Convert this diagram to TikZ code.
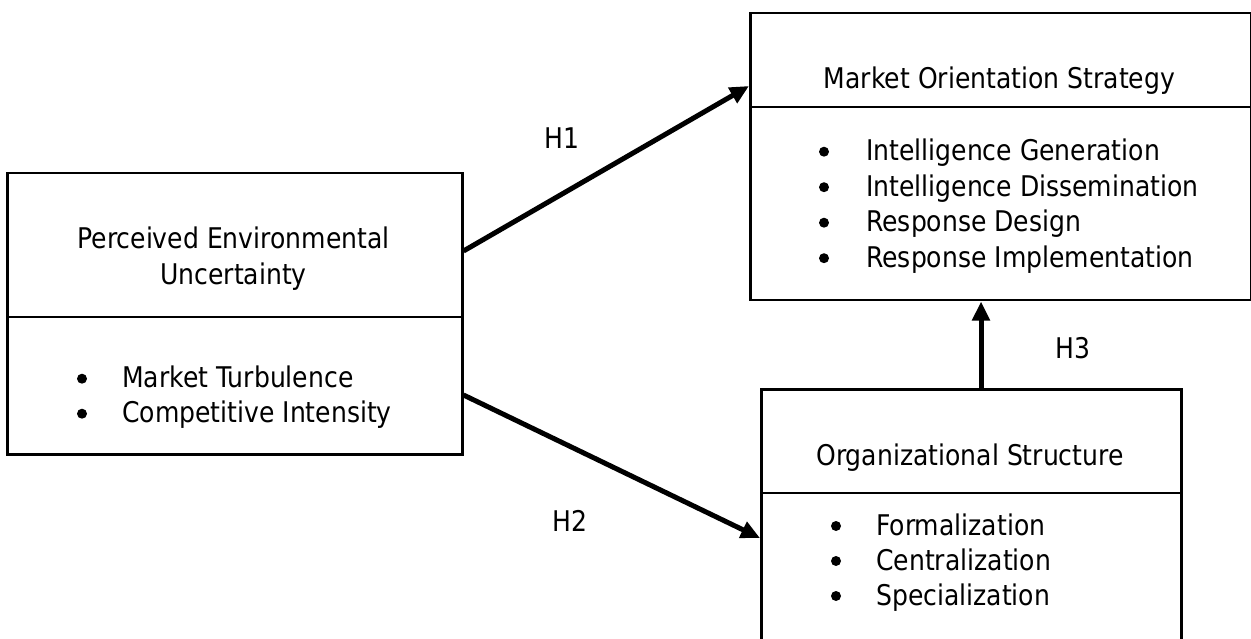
\documentclass[tikz,border=0pt]{standalone}
\usepackage{fontspec}
\setmainfont[FakeStretch=0.88]{DejaVu Sans}
\usetikzlibrary{arrows.meta}

\tikzset{
	box/.style={draw, line width=2.5pt, inner sep=0pt, anchor=north west},
	sep/.style={line width=1.2pt},
	txt/.style={font=\fontsize{28.5}{35}\selectfont, inner sep=0pt},
	dot/.style={circle, fill, inner sep=0pt, minimum size=10pt},
	link/.style={line width=5pt, -{Triangle[length=19pt, width=17pt]}}
}

\begin{document}
\begin{tikzpicture}[x=1pt, y=-1pt]
	\useasboundingbox (0,0) rectangle (1251,639);

	\node [box, minimum width=455pt, minimum height=281pt] (peu) at (6,172) {};
	\node [box, minimum width=501pt, minimum height=287pt] (mos) at (749,12) {};
	\node [box, minimum width=420pt, minimum height=262pt] (os) at (760,388) {};

	\draw [sep] (peu.west |- 0,317) -- (peu.east |- 0,317);
	\draw [sep] (mos.west |- 0,107) -- (mos.east |- 0,107);
	\draw [sep] (os.west |- 0,493) -- (os.east |- 0,493);

	\node [txt, anchor=base] (peut1) at (233.5,249) {Perceived Environmental};
	\node [txt, anchor=base] (peut2) at (233.5,284) {Uncertainty};
	\foreach \itm [count=\i] in {Market Turbulence, Competitive Intensity} {
		\node [dot] (peub\i) at (82, 343.7+35*\i) {};
		\node [txt, anchor=base west] (peui\i) at (122, 352.7+35*\i) {\itm};
	}

	\node [txt, anchor=base] (most) at (999.5,89) {Market Orientation Strategy};
	\foreach \itm [count=\i] in {Intelligence Generation, Intelligence Dissemination, Response Design, Response Implementation} {
		\node [dot] (mosb\i) at (824, 116.2+35.5*\i) {};
		\node [txt, anchor=base west] (mosi\i) at (866, 125.2+35.5*\i) {\itm};
	}

	\node [txt, anchor=base] (ost) at (970,465) {Organizational Structure};
	\foreach \itm [count=\i] in {Formalization, Centralization, Specialization} {
		\node [dot] (osb\i) at (836, 491+35*\i) {};
		\node [txt, anchor=base west] (osi\i) at (876, 500+35*\i) {\itm};
	}

	\draw [link] (peu.east |- 0,251) -- (mos.west |- 0,86);
	\draw [link] (peu.east |- 0,395) -- (os.west |- 0,538);
	\draw [link] (os.north -| 981,0) -- (mos.south -| 981,0);

	\node [txt, anchor=base] (h1) at (562,149) {H1};
	\node [txt, anchor=base] (h2) at (570,531) {H2};
	\node [txt, anchor=base] (h3) at (1073,358) {H3};

\end{tikzpicture}
\end{document}
